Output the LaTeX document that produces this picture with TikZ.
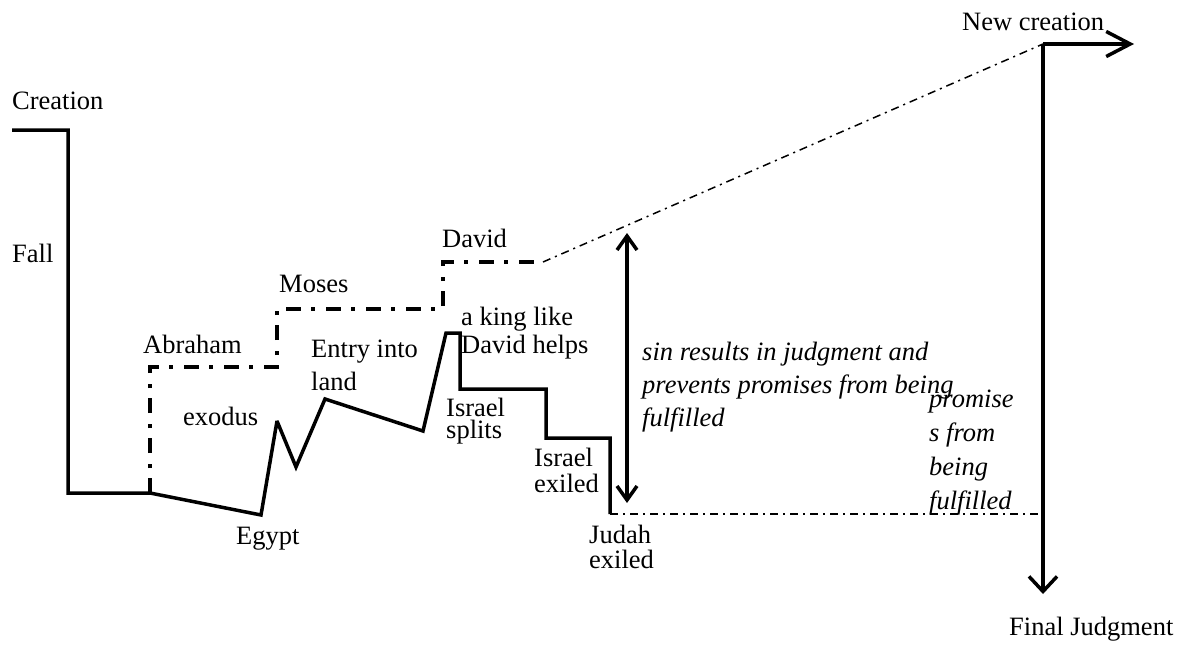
\documentclass[tikz,border=0pt]{standalone}
\usepackage{fontspec}
\setmainfont{Liberation Serif}
\usetikzlibrary{arrows.meta}

% left-aligned stack of lines, aligned on the first baseline, with a fixed line pitch
\newcommand\mlines[2]{\vtop{\baselineskip=#1\relax\lineskiplimit=-\maxdimen\lineskip=0pt\let\\\cr\halign{##\hfil\cr#2\crcr}}}

\begin{document}
\begin{tikzpicture}[x=1pt,y=-1pt,
  lbl/.style={anchor=base west, inner sep=0pt, font=\fontsize{26.5pt}{31pt}\selectfont},
  ilbl/.style={lbl, font=\fontsize{26.5pt}{31pt}\selectfont\itshape},
  track/.style={line width=3.5pt, line join=miter, miter limit=3},
  covenant/.style={line width=4pt, dash pattern=on 15pt off 10pt on 4pt off 11pt},
  hope/.style={line width=1.5pt, dash pattern=on 8pt off 5pt on 2pt off 5pt},
  arr/.style={line width=3.5pt}
]
\useasboundingbox (0,0) rectangle (1191,645);

% history line: creation, fall, descent into Egypt and the ups and downs after it
\draw[track] (12,130) -- (68,130) -- (68,493) -- (150,493) -- (261,515)
  -- (277,421) -- (296,467) -- (325,399) -- (423,431) -- (446,333)
  -- (460,333) -- (460,389) -- (546,389) -- (546,438) -- (610,438) -- (610,514);

% covenant promises stepping upward
\draw[covenant] (150,493) -- (150,367) -- (277,367) -- (277,309)
  -- (443,309) -- (443,262) -- (543,262);

% promise trajectory and the unfulfilled level
\coordinate (corner) at (1043,44);
\draw[hope] (543,262) -- (corner);
\draw[hope] (610,514) -- (1043,514);

% final outcomes
\draw[arr, -{Straight Barb[length=24pt,width=25pt]}] (corner) -- (1134,44);
\draw[arr, -{Straight Barb[length=15pt,width=28pt]}] (corner) -- (1043,594);

% gap between promise and reality
\draw[arr, {Straight Barb[length=14pt,width=20pt]}-{Straight Barb[length=14pt,width=20pt]}] (627,233) -- (627,503);

% labels
\node[lbl] (creation) at (12,109) {Creation};
\node[lbl] (fall) at (12,262) {Fall};
\node[lbl] (abraham) at (143,353) {Abraham};
\node[lbl] (moses) at (279,292) {Moses};
\node[lbl] (david) at (442,247) {David};
\node[lbl] (exodus) at (183,425) {exodus};
\node[lbl] (egypt) at (236,544) {Egypt};
\node[lbl] (entry) at (311,357) {\mlines{33pt}{Entry into\\land}};
\node[lbl] (king) at (461,325) {\mlines{28pt}{a king like\\David helps}};
\node[lbl] (splits) at (446,416) {\mlines{22pt}{Israel\\splits}};
\node[lbl] (israelexile) at (534,466) {\mlines{26pt}{Israel\\exiled}};
\node[lbl] (judahexile) at (589,543) {\mlines{25pt}{Judah\\exiled}};
\node[ilbl] (sin) at (642,360) {\mlines{33pt}{sin results in judgment and\\prevents promises from being\\fulfilled}};
\node[ilbl] (promise) at (929,407) {\mlines{34pt}{promise\\s from\\being\\fulfilled}};
\node[lbl] (newcreation) at (962,30) {New creation};
\node[lbl] (finaljudgment) at (1009,635) {Final Judgment};
\end{tikzpicture}
\end{document}
